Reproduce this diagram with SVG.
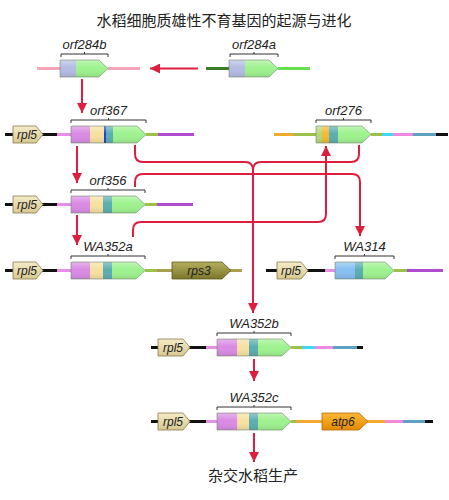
<svg xmlns="http://www.w3.org/2000/svg" width="449" height="500" viewBox="0 0 449 500">
<style>
.t{font-family:"Noto Sans CJK SC","Noto Sans",sans-serif;fill:#222}
.lb{font-family:"Liberation Sans",Arial,sans-serif;font-style:italic;font-size:13px;fill:#222;text-anchor:middle}
.gl{font-family:"Liberation Sans",Arial,sans-serif;font-style:italic;font-size:12px;fill:#222;text-anchor:middle}
.ln{stroke-width:3;fill:none}
.br{stroke:#333;stroke-width:1;fill:none}
.ol{fill:url(#shine);stroke:#6f7f6a;stroke-width:0.8;stroke-opacity:0.7}
.con{stroke:#dc1f3f;stroke-width:2;fill:none}
.mg{fill:#d98ae3}.ye{fill:#f7e0a0}.te{fill:#5aaeb0}.gr{fill:#9ef28e}.bg{fill:#b4bce4}.lbl{fill:#86bff2}.bl{fill:#1f3fd8}.or{fill:#f6b830}.yg{fill:#b4d878}
</style>
<defs>
<linearGradient id="shine" x1="0" y1="0" x2="0" y2="1">
<stop offset="0" stop-color="#fff" stop-opacity="0.35"/>
<stop offset="0.45" stop-color="#fff" stop-opacity="0"/>
<stop offset="1" stop-color="#000" stop-opacity="0.1"/>
</linearGradient>
<linearGradient id="tan" x1="0" y1="0" x2="0" y2="1">
<stop offset="0" stop-color="#f4ecc8"/>
<stop offset="1" stop-color="#d8c890"/>
</linearGradient>
<linearGradient id="olive" x1="0" y1="0" x2="0" y2="1">
<stop offset="0" stop-color="#b4ae5c"/>
<stop offset="1" stop-color="#7c762c"/>
</linearGradient>
<linearGradient id="orange" x1="0" y1="0" x2="0" y2="1">
<stop offset="0" stop-color="#fbb83a"/>
<stop offset="1" stop-color="#e48a00"/>
</linearGradient>
<marker id="ah" markerUnits="userSpaceOnUse" markerWidth="10" markerHeight="10" viewBox="0 0 10 10" refX="10" refY="5" orient="auto">
<path d="M0,0 L10,5 L0,10 z" fill="#dc1f3f"/>
</marker>
</defs>
<rect width="449" height="500" fill="#fff"/>
<text class="t" x="224" y="26" font-size="15" text-anchor="middle">水稻细胞质雄性不育基因的起源与进化</text>

<g id="orf284b">
<line class="ln" x1="37" y1="68.5" x2="60" y2="68.5" stroke="#f4a6b8"/>
<line class="ln" x1="108" y1="68.5" x2="140" y2="68.5" stroke="#f4a6b8"/>
<rect class="bg" x="60" y="60" width="16" height="17"/>
<path class="gr" d="M76,60 H99 L108,68.5 L99,77 H76 Z"/>
<path class="ol" d="M60,60 H99 L108,68.5 L99,77 H60 Z"/>
<path class="br" d="M61,57 V54 H108 V57 M84.5,54 V52"/>
<text class="lb" x="84.5" y="49">orf284b</text>
</g>

<g id="orf284a">
<line class="ln" x1="206" y1="68.5" x2="229" y2="68.5" stroke="#3f7a24"/>
<line class="ln" x1="278" y1="68.5" x2="310" y2="68.5" stroke="#66e04c"/>
<rect class="bg" x="229" y="60" width="16" height="17"/>
<path class="gr" d="M245,60 H269 L278,68.5 L269,77 H245 Z"/>
<path class="ol" d="M229,60 H269 L278,68.5 L269,77 H229 Z"/>
<path class="br" d="M230,57 V54 H278 V57 M254,54 V52"/>
<text class="lb" x="254" y="49">orf284a</text>
</g>

<g id="orf367">
<line class="ln" x1="5" y1="134.5" x2="57" y2="134.5" stroke="#111"/>
<line class="ln" x1="57" y1="134.5" x2="71" y2="134.5" stroke="#e68ee6"/>
<line class="ln" x1="146" y1="134.5" x2="158" y2="134.5" stroke="#9cc04a"/>
<line class="ln" x1="158" y1="134.5" x2="194" y2="134.5" stroke="#b04cd0"/>
<path d="M13,126 H36 L43,134.5 L36,143 H13 Z" fill="url(#tan)" stroke="#8a7a50" stroke-width="0.8"/>
<text class="gl" x="27" y="139">rpl5</text>
<rect class="mg" x="71" y="126" width="19" height="17"/>
<rect class="ye" x="90" y="126" width="14" height="17"/>
<rect class="bl" x="104" y="126" width="2" height="17"/>
<rect class="te" x="106" y="126" width="7" height="17"/>
<path class="gr" d="M113,126 H137 L146,134.5 L137,143 H113 Z"/>
<path class="ol" d="M71,126 H137 L146,134.5 L137,143 H71 Z"/>
<path class="br" d="M71,123 V120 H146 V123 M108.5,120 V118"/>
<text class="lb" x="108.5" y="115">orf367</text>
</g>

<g id="orf276">
<line class="ln" x1="274" y1="134.5" x2="294" y2="134.5" stroke="#f0aa30"/>
<line class="ln" x1="294" y1="134.5" x2="316" y2="134.5" stroke="#9cc04a"/>
<line class="ln" x1="371" y1="134.5" x2="382" y2="134.5" stroke="#9cc04a"/>
<line class="ln" x1="382" y1="134.5" x2="393" y2="134.5" stroke="#40d8f4"/>
<line class="ln" x1="393" y1="134.5" x2="413" y2="134.5" stroke="#f08ae0"/>
<line class="ln" x1="413" y1="134.5" x2="436" y2="134.5" stroke="#5aa2c0"/>
<line class="ln" x1="436" y1="134.5" x2="448" y2="134.5" stroke="#111"/>
<rect class="yg" x="316" y="126" width="6" height="17"/>
<rect class="or" x="322" y="126" width="7" height="17"/>
<rect class="te" x="329" y="126" width="9" height="17"/>
<path class="gr" d="M338,126 H362 L371,134.5 L362,143 H338 Z"/>
<path class="ol" d="M316,126 H362 L371,134.5 L362,143 H316 Z"/>
<path class="br" d="M316,123 V120 H371 V123 M343.5,120 V118"/>
<text class="lb" x="343.5" y="115">orf276</text>
</g>

<g id="orf356">
<line class="ln" x1="5" y1="204.5" x2="57" y2="204.5" stroke="#111"/>
<line class="ln" x1="57" y1="204.5" x2="71" y2="204.5" stroke="#e68ee6"/>
<line class="ln" x1="145" y1="204.5" x2="157" y2="204.5" stroke="#9cc04a"/>
<line class="ln" x1="157" y1="204.5" x2="193" y2="204.5" stroke="#b04cd0"/>
<path d="M13,196 H36 L43,204.5 L36,213 H13 Z" fill="url(#tan)" stroke="#8a7a50" stroke-width="0.8"/>
<text class="gl" x="27" y="209">rpl5</text>
<rect class="mg" x="71" y="196" width="19" height="17"/>
<rect class="ye" x="90" y="196" width="13" height="17"/>
<rect class="te" x="103" y="196" width="9" height="17"/>
<path class="gr" d="M112,196 H136 L145,204.5 L136,213 H112 Z"/>
<path class="ol" d="M71,196 H136 L145,204.5 L136,213 H71 Z"/>
<path class="br" d="M71,193 V190 H145 V193 M108,190 V188"/>
<text class="lb" x="108" y="185">orf356</text>
</g>

<g id="WA352a">
<line class="ln" x1="5" y1="270.5" x2="57" y2="270.5" stroke="#111"/>
<line class="ln" x1="57" y1="270.5" x2="71" y2="270.5" stroke="#e68ee6"/>
<line class="ln" x1="145" y1="270.5" x2="157" y2="270.5" stroke="#9cc04a"/>
<line class="ln" x1="157" y1="270.5" x2="242" y2="270.5" stroke="#a8a050"/>
<path d="M13,262 H36 L43,270.5 L36,279 H13 Z" fill="url(#tan)" stroke="#8a7a50" stroke-width="0.8"/>
<text class="gl" x="27" y="275">rpl5</text>
<rect class="mg" x="71" y="262" width="19" height="17"/>
<rect class="ye" x="90" y="262" width="13" height="17"/>
<rect class="te" x="103" y="262" width="9" height="17"/>
<path class="gr" d="M112,262 H136 L145,270.5 L136,279 H112 Z"/>
<path class="ol" d="M71,262 H136 L145,270.5 L136,279 H71 Z"/>
<path class="br" d="M71,259 V256 H145 V259 M108,256 V254"/>
<text class="lb" x="108" y="251">WA352a</text>
<path d="M172,262 H222 L231,270.5 L222,279 H172 Z" fill="url(#olive)" stroke="#5c5820" stroke-width="0.8"/>
<text class="gl" x="199" y="275" font-size="13">rps3</text>
</g>

<g id="WA314">
<line class="ln" x1="266" y1="270.5" x2="325" y2="270.5" stroke="#111"/>
<line class="ln" x1="325" y1="270.5" x2="335" y2="270.5" stroke="#e68ee6"/>
<line class="ln" x1="394" y1="270.5" x2="407" y2="270.5" stroke="#9cc04a"/>
<line class="ln" x1="407" y1="270.5" x2="443" y2="270.5" stroke="#b04cd0"/>
<path d="M277,262 H301 L308,270.5 L301,279 H277 Z" fill="url(#tan)" stroke="#8a7a50" stroke-width="0.8"/>
<text class="gl" x="291" y="275">rpl5</text>
<rect class="lbl" x="335" y="262" width="20" height="17"/>
<rect class="te" x="355" y="262" width="8" height="17"/>
<path class="gr" d="M363,262 H385 L394,270.5 L385,279 H363 Z"/>
<path class="ol" d="M335,262 H385 L394,270.5 L385,279 H335 Z"/>
<path class="br" d="M335,259 V256 H394 V259 M364.5,256 V254"/>
<text class="lb" x="364.5" y="251">WA314</text>
</g>

<g id="WA352b">
<line class="ln" x1="151" y1="347.5" x2="206" y2="347.5" stroke="#111"/>
<line class="ln" x1="206" y1="347.5" x2="217" y2="347.5" stroke="#e68ee6"/>
<line class="ln" x1="291" y1="347.5" x2="302" y2="347.5" stroke="#9cc04a"/>
<line class="ln" x1="302" y1="347.5" x2="315" y2="347.5" stroke="#40d8f4"/>
<line class="ln" x1="315" y1="347.5" x2="333" y2="347.5" stroke="#f08ae0"/>
<line class="ln" x1="333" y1="347.5" x2="357" y2="347.5" stroke="#5aa2c0"/>
<line class="ln" x1="357" y1="347.5" x2="363" y2="347.5" stroke="#111"/>
<path d="M158,339 H183 L190,347.5 L183,356 H158 Z" fill="url(#tan)" stroke="#8a7a50" stroke-width="0.8"/>
<text class="gl" x="173" y="352">rpl5</text>
<rect class="mg" x="217" y="339" width="20" height="17"/>
<rect class="ye" x="237" y="339" width="12" height="17"/>
<rect class="te" x="249" y="339" width="9" height="17"/>
<path class="gr" d="M258,339 H282 L291,347.5 L282,356 H258 Z"/>
<path class="ol" d="M217,339 H282 L291,347.5 L282,356 H217 Z"/>
<path class="br" d="M217,336 V333 H291 V336 M254,333 V331"/>
<text class="lb" x="254" y="328">WA352b</text>
</g>

<g id="WA352c">
<line class="ln" x1="151" y1="421.5" x2="206" y2="421.5" stroke="#111"/>
<line class="ln" x1="206" y1="421.5" x2="217" y2="421.5" stroke="#e68ee6"/>
<line class="ln" x1="291" y1="421.5" x2="296" y2="421.5" stroke="#9cc04a"/>
<line class="ln" x1="296" y1="421.5" x2="385" y2="421.5" stroke="#f0aa30"/>
<line class="ln" x1="385" y1="421.5" x2="403" y2="421.5" stroke="#f08ae0"/>
<line class="ln" x1="403" y1="421.5" x2="425" y2="421.5" stroke="#5aa2c0"/>
<line class="ln" x1="425" y1="421.5" x2="433" y2="421.5" stroke="#111"/>
<path d="M158,413 H183 L190,421.5 L183,430 H158 Z" fill="url(#tan)" stroke="#8a7a50" stroke-width="0.8"/>
<text class="gl" x="173" y="426">rpl5</text>
<rect class="mg" x="217" y="413" width="20" height="17"/>
<rect class="ye" x="237" y="413" width="12" height="17"/>
<rect class="te" x="249" y="413" width="9" height="17"/>
<path class="gr" d="M258,413 H282 L291,421.5 L282,430 H258 Z"/>
<path class="ol" d="M217,413 H282 L291,421.5 L282,430 H217 Z"/>
<path class="br" d="M217,410 V407 H291 V410 M254,407 V405"/>
<text class="lb" x="254" y="402">WA352c</text>
<path d="M322,413 H359 L368,421.5 L359,430 H322 Z" fill="url(#orange)" stroke="#b86a00" stroke-width="0.8"/>
<text class="gl" x="343" y="426" font-size="13">atp6</text>
</g>

<g id="output">
<text class="t" x="253" y="481" font-size="15" text-anchor="middle">杂交水稻生产</text>
</g>

<g id="connectors">
<line class="con" x1="198" y1="68.5" x2="150" y2="68.5" marker-end="url(#ah)"/>
<line class="con" x1="82" y1="79" x2="82" y2="113" marker-end="url(#ah)"/>
<line class="con" x1="77" y1="146" x2="77" y2="183" marker-end="url(#ah)"/>
<line class="con" x1="77" y1="215" x2="77" y2="245" marker-end="url(#ah)"/>
<path class="con" d="M135,145 V154 Q135,162 143,162 H245 Q253,162 253,170 V313" marker-end="url(#ah)"/>
<path class="con" d="M359,145 V154 Q359,162 351,162 H261 Q253,162 253,170"/>
<path class="con" d="M135,187 V182 Q135,174 143,174 H352 Q360,174 360,182 V236" marker-end="url(#ah)"/>
<path class="con" d="M133,237 V230 Q133,222 141,222 H318 Q326,222 326,214 V146" marker-end="url(#ah)"/>
<line class="con" x1="254" y1="359" x2="254" y2="381" marker-end="url(#ah)"/>
<line class="con" x1="254" y1="433" x2="254" y2="462" marker-end="url(#ah)"/>
</g>
</svg>
